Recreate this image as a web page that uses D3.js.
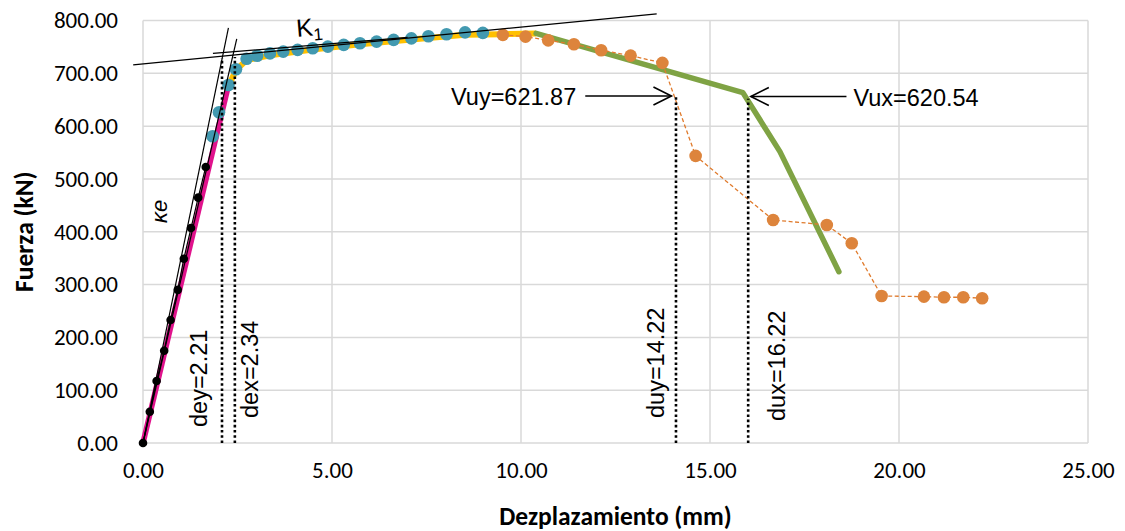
<!DOCTYPE html>
<html><head><meta charset="utf-8">
<script src="https://cdn.jsdelivr.net/npm/d3@7"></script>
<style>
html,body{margin:0;padding:0;background:#fff;}
svg{display:block;}
</style></head>
<body>
<svg id="chart" width="1125" height="531"></svg>
<script>
// ---------- data ----------
const xTicks = [0, 5, 10, 15, 20, 25];
const yTicks = [0, 100, 200, 300, 400, 500, 600, 700, 800];

// elastic branch (black markers)
const elasticX = [0, 0.18, 0.36, 0.56, 0.73, 0.92, 1.08, 1.27, 1.46, 1.66];
const elasticY = [0, 59.3, 117.4, 174.8, 233.0, 290.0, 349.0, 407.0, 464.6, 522.7];

// hardening branch (blue markers)
const hardX = [1.84, 2.01, 2.26, 2.46, 2.74, 3.02, 3.36, 3.71, 4.09, 4.49, 4.89, 5.31, 5.74, 6.18, 6.63, 7.10, 7.55, 8.03, 8.52, 8.99];
const hardY = [580.9, 626.3, 678.0, 707.8, 727.7, 733.3, 737.7, 741.1, 744.3, 747.5, 750.6, 753.8, 757.0, 760.0, 763.3, 766.1, 770.3, 774.1, 777.5, 776.5];

// softening branch (orange markers)
const softX = [9.52, 10.12, 10.72, 11.40, 12.12, 12.90, 13.74, 14.62, 16.67, 18.09, 18.75, 19.54, 20.66, 21.19, 21.70, 22.20];
const softY = [772.7, 769.5, 762.3, 755.1, 743.8, 733.5, 719.7, 543.6, 422.3, 412.9, 378.2, 278.4, 277.1, 276.0, 276.0, 274.1];

// idealised branches
const magentaX = [0, 2.25];
const magentaY = [0, 674];
const yellowX = [2.25, 2.46, 2.74, 3.36, 4.49, 5.74, 7.10, 8.52, 9.52, 10.40];
const yellowY = [674, 706, 725, 734, 745, 755, 764, 773, 774, 775.6];
const greenX = [10.40, 15.87, 16.85, 18.41];
const greenY = [775.6, 663.4, 551.7, 324.4];

// stiffness lines
const keX = [0, 2.26];
const keY = [0, 786];
const secX = [0, 2.48];
const secY = [0, 765];
const k1X = [-0.26, 13.59];
const k1Y = [716, 812.5];
const k1bX = [1.85, 7.0];
const k1bY = [737.6, 768];

// guides
const guideLabels = ["dey=2.21", "dex=2.34", "duy=14.22", "dux=16.22"];
const guideX = [2.09, 2.43, 14.10, 16.01];
const guideTop = [729, 731, 659, 652];

const arrowLabels = ["Vuy=621.87", "Vux=620.54"];
const arrowTipX = [13.98, 16.08];
const arrowTailX = [11.70, 18.61];
const arrowY = [657, 656];

// ---------- layout ----------
const svg = d3.select("#chart");
const x = d3.scaleLinear().domain([0, 25]).range([143, 1088]);
const y = d3.scaleLinear().domain([0, 800]).range([443, 20.5]);
const fmt = d3.format(".2f");
const tickFont = "Carlito, Lato, 'Open Sans', sans-serif";
const annFont = "'Liberation Sans', Arial, sans-serif";

// gridlines
const grid = svg.append("g");
grid.selectAll("line.h").data(yTicks).join("line")
  .attr("x1", x(0)).attr("x2", x(25))
  .attr("y1", d => y(d)).attr("y2", d => y(d))
  .attr("stroke", "#d9d9d9").attr("stroke-width", 1.5);
grid.selectAll("line.v").data(xTicks).join("line")
  .attr("y1", y(0)).attr("y2", y(800))
  .attr("x1", d => x(d)).attr("x2", d => x(d))
  .attr("stroke", "#d9d9d9").attr("stroke-width", 1.5);

// axes (labels only)
const yAxis = svg.append("g").attr("transform", `translate(${x(0)},0)`)
  .call(d3.axisLeft(y).tickValues(yTicks).tickFormat(fmt).tickSize(0).tickPadding(25));
const xAxis = svg.append("g").attr("transform", `translate(0,${y(0)})`)
  .call(d3.axisBottom(x).tickValues(xTicks).tickFormat(fmt).tickSize(0).tickPadding(19));
[yAxis, xAxis].forEach(a => {
  a.select(".domain").remove();
  a.selectAll("text").attr("font-family", tickFont).attr("font-size", 23).attr("fill", "#000");
});

svg.append("text").attr("x", x(12.5)).attr("y", 525).attr("text-anchor", "middle")
  .attr("font-family", tickFont).attr("font-weight", "bold").attr("font-size", 25.5)
  .text("Dezplazamiento (mm)");
svg.append("text").attr("transform", `translate(33,${(y(0) + y(800)) / 2}) rotate(-90)`)
  .attr("text-anchor", "middle")
  .attr("font-family", tickFont).attr("font-weight", "bold").attr("font-size", 25.5)
  .text("Fuerza (kN)");

const zip = (xs, ys) => xs.map((v, i) => [v, ys[i]]);
const line = d3.line().x(d => x(d[0])).y(d => y(d[1]));

// thick idealised lines
svg.append("path").attr("d", line(zip(magentaX, magentaY))).attr("fill", "none")
  .attr("stroke", "#e0128c").attr("stroke-width", 5.5);
svg.append("path").attr("d", line(zip(yellowX, yellowY))).attr("fill", "none")
  .attr("stroke", "#ffc000").attr("stroke-width", 6).attr("stroke-linejoin", "round");
svg.append("path").attr("d", line(zip(greenX, greenY))).attr("fill", "none")
  .attr("stroke", "#7fa344").attr("stroke-width", 5.5).attr("stroke-linejoin", "round").attr("stroke-linecap", "round");

// thin series lines
svg.append("path").attr("d", line(zip(softX, softY))).attr("fill", "none")
  .attr("stroke", "#e07b2d").attr("stroke-width", 1.3).attr("stroke-dasharray", "4 2.5");
svg.append("path").attr("d", line(zip(elasticX, elasticY))).attr("fill", "none")
  .attr("stroke", "#000").attr("stroke-width", 1.2);

// markers
svg.append("g").selectAll("circle").data(zip(hardX, hardY)).join("circle")
  .attr("cx", d => x(d[0])).attr("cy", d => y(d[1])).attr("r", 6.3).attr("fill", "#4299b0");
svg.append("g").selectAll("circle").data(zip(softX, softY)).join("circle")
  .attr("cx", d => x(d[0])).attr("cy", d => y(d[1])).attr("r", 6.3).attr("fill", "#dd843c");
svg.append("g").selectAll("circle").data(zip(elasticX, elasticY)).join("circle")
  .attr("cx", d => x(d[0])).attr("cy", d => y(d[1])).attr("r", 4.3).attr("fill", "#000");

// stiffness lines
[[keX, keY], [secX, secY], [k1X, k1Y], [k1bX, k1bY]].forEach(([xs, ys]) => {
  svg.append("path").attr("d", line(zip(xs, ys))).attr("fill", "none")
    .attr("stroke", "#000").attr("stroke-width", 1.2);
});

// guides
const labelOffset = [-15, 23, -12, 37];
const labelStart = [427, 418, 418, 421];
guideX.forEach((gx, i) => {
  svg.append("line").attr("x1", x(gx)).attr("x2", x(gx))
    .attr("y1", y(0)).attr("y2", y(guideTop[i]))
    .attr("stroke", "#000").attr("stroke-width", 2.6).attr("stroke-dasharray", "2.6 2.6");
  svg.append("text")
    .attr("transform", `translate(${x(gx) + labelOffset[i]},${labelStart[i]}) rotate(-90)`)
    .attr("font-family", annFont).attr("font-size", 23.5).attr("fill", "#000")
    .text(guideLabels[i]);
});

// arrows
arrowLabels.forEach((lab, i) => {
  const tx = x(arrowTipX[i]), ty = y(arrowY[i]), sx = x(arrowTailX[i]);
  const dir = Math.sign(tx - sx);
  const g = svg.append("g").attr("stroke", "#000").attr("stroke-width", 1.6).attr("fill", "none");
  g.append("line").attr("x1", sx).attr("x2", tx).attr("y1", ty).attr("y2", ty);
  g.append("path").attr("d", `M${tx - dir * 18},${ty - 9}L${tx},${ty}L${tx - dir * 18},${ty + 9}`);
  svg.append("text")
    .attr("x", dir > 0 ? sx - 9 : sx + 7).attr("y", ty + 9)
    .attr("text-anchor", dir > 0 ? "end" : "start")
    .attr("font-family", annFont).attr("font-size", 23.5).attr("fill", "#000")
    .text(lab);
});

// stiffness labels
svg.append("text").attr("transform", `translate(167,223) rotate(-90)`)
  .attr("font-family", annFont).attr("font-size", 22).attr("font-style", "italic").text("κe");
const k1 = svg.append("text").attr("transform", `translate(297,37) rotate(-5)`)
  .attr("font-family", annFont).attr("font-size", 25);
k1.append("tspan").text("K");
k1.append("tspan").attr("dy", 5).attr("font-size", 17).text("1");
</script>
</body></html>
